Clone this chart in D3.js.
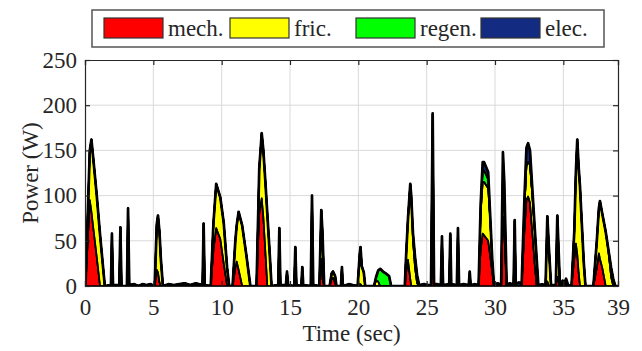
<!DOCTYPE html>
<html><head><meta charset="utf-8">
<script src="https://cdn.jsdelivr.net/npm/d3@7"></script>
<style>
html,body{margin:0;padding:0;background:#fff;}
svg{display:block;}
text{font-family:"Liberation Serif","Times New Roman",serif;fill:#262626;}
</style></head>
<body><svg id="c" width="642" height="351"></svg>
<script>
// ---- data ----
const seriesNames = ["mech.", "fric.", "regen.", "elec."];
const xTicks = [0,5,10,15,20,25,30,35,39];
const yTicks = [0,50,100,150,200,250];

const time = [
 0.00,0.05,0.35,0.47,0.60,0.85,1.10,1.45,
 1.90,1.97,2.05,2.51,2.59,2.67,3.07,3.15,3.24,
 3.60,3.90,4.20,4.50,4.80,
 5.10,5.25,5.34,5.45,5.55,5.70,
 6.10,6.50,6.90,7.30,7.70,8.10,
 8.60,8.68,8.76,
 9.20,9.40,9.60,9.70,9.90,10.15,10.40,10.55,
 10.80,11.00,11.10,11.24,11.50,11.80,12.10,
 12.55,12.75,12.93,13.05,13.20,13.34,13.50,13.65,
 14.14,14.22,14.30,14.70,14.78,14.86,15.31,15.39,15.47,15.83,15.90,15.97,
 16.52,16.61,16.70,17.15,17.29,17.38,17.50,
 17.90,18.05,18.15,18.30,18.40,18.73,18.80,18.87,19.30,19.60,
 19.95,20.10,20.16,20.25,20.40,20.50,
 21.15,21.30,21.45,21.60,21.80,22.00,22.25,22.40,
 23.40,23.50,23.63,23.80,23.87,24.00,24.15,24.30,24.45,
 24.80,25.10,25.32,25.44,25.54,25.80,26.04,26.12,26.20,
 26.65,26.73,26.80,27.21,27.29,27.37,27.70,28.08,28.15,28.22,28.50,28.80,
 28.95,29.10,29.20,29.50,29.65,29.80,29.92,30.20,30.45,
 30.58,30.68,30.85,31.10,31.36,31.44,31.52,31.75,31.95,
 32.15,32.30,32.42,32.56,32.75,32.90,33.05,33.17,33.45,33.70,
 33.83,33.95,34.10,34.45,34.56,34.75,34.95,35.05,35.20,35.35,35.60,
 35.80,35.92,36.02,36.12,36.22,36.35,36.50,36.62,
 37.20,37.45,37.60,37.68,37.85,38.10,38.30,38.50,38.65,38.80,39.00
];
const mech = [
 0,4,95,82,65,33,0,0,
 0,22,0,0,25,0,0,30,0,
 1,0,1,0,1,
 0,18,15,4,0,0,
 1,0,1,1,0,1,
 0,25,0,
 0,40,64,60,52,25,0,0,
 0,20,27,18,0,0,0,
 0,80,97,76,37,0,0,0,
 0,24,0,0,6,0,0,15,0,0,8,0,
 0,60,0,0,30,8,0,
 0,8,9,3,0,0,8,0,1,0,
 0,2,2,0,0,0,
 0,0,0,0,0,0,0,0,
 0,15,29,8,0,0,0,0,0,
 0,0,0,40,0,0,0,20,0,
 0,20,0,0,22,0,0,0,5,0,0,0,
 40,58,56,50,33,15,0,0,0,
 77,60,0,0,0,35,0,0,0,
 60,95,99,92,55,25,0,0,0,0,
 5,0,0,0,10,0,0,0,0,0,0,
 30,47,35,15,0,0,0,0,
 0,20,36,30,20,0,0,0,0,0,0
];
const fric = [
 0,2,55,80,77,69,57,0,
 1,36,1,1,40,0,0,56,1,
 1,0,1,1,1,
 0,50,63,56,30,0,
 1,1,1,2,1,2,
 1,44,1,
 0,30,49,48,46,45,20,0,
 0,30,40,64,67,35,0,
 0,50,72,74,78,80,40,0,
 1,40,1,1,10,1,0,28,1,0,13,1,
 0,40,1,0,54,50,0,
 0,6,7,8,0,0,13,0,1,1,
 0,33,41,22,15,0,
 0,6,5,0,0,0,0,0,
 0,20,45,105,100,50,20,3,0,
 0,0,0,150,1,0,0,34,0,
 0,37,0,0,41,0,0,0,10,0,0,0,
 40,57,59,58,40,12,0,0,0,
 48,40,0,0,0,37,0,0,0,
 25,38,38,42,42,38,28,0,0,0,
 72,40,0,0,68,0,3,0,4,0,0,
 30,80,127,117,110,70,25,0,
 0,30,50,64,60,60,38,10,0,0,0
];
const regen = [
 0,0,0,0,0,0,0,0,
 0,0,0,0,0,0,0,0,0,
 0,0,0,0,0,
 0,0,0,0,0,0,
 0,0,0,0,0,0,
 0,0,0,
 0,0,0,0,0,0,0,0,
 0,0,0,0,0,0,0,
 0,0,0,0,0,0,0,0,
 0,0,0,0,0,0,0,0,0,0,0,0,
 0,0,0,0,0,0,0,
 0,0,0,0,0,0,0,0,0,0,
 0,0,0,0,0,0,
 0,4,12,19,16,14,11,0,
 0,0,0,0,0,8,12,8,0,
 0,0,0,0,0,0,0,0,0,
 0,0,0,0,0,0,0,0,0,0,0,0,
 5,13,13,10,0,0,0,0,0,
 0,0,0,0,0,0,0,0,0,
 0,0,0,0,0,0,0,0,0,0,
 0,0,0,0,0,0,0,0,0,0,0,
 0,0,0,0,0,0,0,0,
 0,0,0,0,0,0,2,10,8,0,0
];
const elec = [
 0,0,0,0,0,0,0,0,
 0,0,0,0,0,0,0,0,0,
 0,0,0,0,0,
 0,0,0,0,0,0,
 0,0,0,0,0,0,
 0,0,0,
 0,0,0,0,0,0,0,0,
 0,0,0,0,0,0,0,
 0,0,0,0,0,0,0,0,
 0,0,0,0,0,0,0,0,0,0,0,0,
 0,0,0,0,0,0,0,
 0,0,0,0,0,0,0,0,0,0,
 0,0,0,0,0,0,
 0,0,0,0,0,0,0,0,
 0,0,0,0,0,0,0,1,1,
 2,1,1,1,1,2,1,1,1,
 2,1,2,1,1,1,2,1,1,1,2,1,
 5,9,9,8,4,2,2,3,1,
 23,15,2,3,1,1,2,4,2,
 10,20,21,16,6,3,2,1,2,1,
 0,1,1,1,0,1,3,2,4,1,0,
 0,0,0,0,0,0,0,0,
 0,0,0,0,0,0,0,0,0,0,0
];
const colors = ["#ff0000","#ffff00","#00ff00","#142b82"];

// ---- chart ----
const W = 642, H = 351;
const m = {left:85, top:60, right:24, bottom:65};
const pw = W - m.left - m.right, ph = H - m.top - m.bottom;
const svg = d3.select("#c");
const g = svg.append("g").attr("transform",`translate(${m.left},${m.top})`);

const x = d3.scaleLinear().domain([0,39]).range([0,pw]);
const y = d3.scaleLinear().domain([0,250]).range([ph,0]);

const rows = time.map((t,i)=>({t, "mech.":mech[i], "fric.":fric[i], "regen.":regen[i], "elec.":elec[i]}));
const stacked = d3.stack().keys(seriesNames)(rows);

// grid
g.append("g").selectAll("line").data(xTicks.filter(d=>d>0&&d<39)).join("line")
  .attr("x1",d=>x(d)).attr("x2",d=>x(d)).attr("y1",0).attr("y2",ph)
  .attr("stroke","#d9d9d9").attr("stroke-width",1);
g.append("g").selectAll("line").data(yTicks.filter(d=>d>0&&d<250)).join("line")
  .attr("y1",d=>y(d)).attr("y2",d=>y(d)).attr("x1",0).attr("x2",pw)
  .attr("stroke","#d9d9d9").attr("stroke-width",1);

// clip
svg.append("defs").append("clipPath").attr("id","clip").append("rect")
  .attr("x",0).attr("y",-2).attr("width",pw).attr("height",ph+2);

const plot = g.append("g").attr("clip-path","url(#clip)");
const areaGen = d3.area().x(d=>x(d.data.t)).y0(d=>y(d[0])).y1(d=>y(d[1]));
const topLine = d3.line().x(d=>x(d.data.t)).y(d=>y(d[1]));
plot.selectAll("path.a").data(stacked).join("path").attr("class","a")
  .attr("d",areaGen).attr("fill",(d,i)=>colors[i])
  .attr("stroke","#000").attr("stroke-width",1.6).attr("stroke-linejoin","round");
plot.selectAll("path.l").data(stacked).join("path").attr("class","l")
  .attr("d",topLine).attr("fill","none").attr("stroke","#000")
  .attr("stroke-width",(d,i)=>i===3?2.7:1.7).attr("stroke-linejoin","round");

// axes
const fs = "23px";
const axB = g.append("g").attr("transform",`translate(0,${ph})`)
  .call(d3.axisBottom(x).tickValues(xTicks).tickSize(-5).tickPadding(13).tickFormat(d3.format("d")));
const axT = g.append("g")
  .call(d3.axisTop(x).tickValues(xTicks).tickSize(-5).tickFormat(""));
const axL = g.append("g")
  .call(d3.axisLeft(y).tickValues(yTicks).tickSize(-5).tickPadding(8));
const axR = g.append("g").attr("transform",`translate(${pw},0)`)
  .call(d3.axisRight(y).tickValues(yTicks).tickSize(-5).tickFormat(""));
[axB,axT,axL,axR].forEach(a=>{
  a.select(".domain").attr("stroke","#262626").attr("stroke-width",1.2);
  a.selectAll(".tick line").attr("stroke","#262626").attr("stroke-width",1.2);
  a.selectAll("text").style("font-size",fs).attr("fill","#262626")
   .style("font-family",'"Liberation Serif","Times New Roman",serif');
});

// axis titles
svg.append("text").attr("x",m.left+pw/2).attr("y",341).attr("text-anchor","middle")
  .style("font-size",fs).text("Time (sec)");
svg.append("text").attr("transform",`translate(38,${m.top+ph/2}) rotate(-90)`)
  .attr("text-anchor","middle").style("font-size",fs).text("Power (W)");

// legend
const lg = svg.append("g");
lg.append("rect").attr("x",92).attr("y",10).attr("width",512).attr("height",37)
  .attr("fill","#fff").attr("stroke","#555").attr("stroke-width",1.5);
const lx = [104,230,356,481];
seriesNames.forEach((n,i)=>{
  lg.append("rect").attr("x",lx[i]).attr("y",18).attr("width",59).attr("height",20)
    .attr("fill",colors[i]).attr("stroke","#333").attr("stroke-width",1.2);
  lg.append("text").attr("x",lx[i]+64).attr("y",36).style("font-size",fs).text(n);
});
</script></body></html>
